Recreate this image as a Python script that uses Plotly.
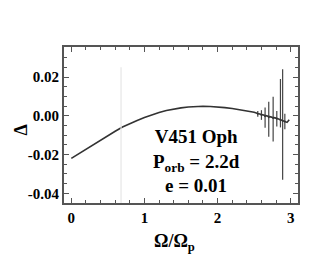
import plotly.graph_objects as go

# Main curve
curve_x = [0.0, 0.1, 0.2, 0.3, 0.4, 0.5, 0.6, 0.7, 0.8, 0.9, 1.0, 1.1, 1.2, 1.3, 1.4, 1.5, 1.6, 1.7, 1.8,
           1.9, 2.0, 2.1, 2.2, 2.3, 2.4, 2.5, 2.55, 2.6, 2.65, 2.7, 2.75, 2.8, 2.85, 2.9, 2.95, 2.98]
curve_y = [-0.0220, -0.0196, -0.0172, -0.0148, -0.0125, -0.0102, -0.0080, -0.0058, -0.0040, -0.0024,
           -0.0009, 0.0005, 0.0017, 0.0027, 0.0035, 0.0041, 0.0045, 0.0048, 0.0049,
           0.0048, 0.0046, 0.0042, 0.0038, 0.0032, 0.0025, 0.0018, 0.0012, 0.0006, 0.0002, -0.0004,
           -0.0008, -0.0012, -0.0018, -0.0024, -0.0034, -0.0020]

# Oscillating points with error bars
err_x = [2.55, 2.60, 2.65, 2.70, 2.76, 2.81, 2.86, 2.89, 2.92]
err_y = [0.0010, 0.0004, -0.0002, -0.0008, -0.0012, -0.0015, -0.0020, -0.0025, -0.0030]
err_up = [0.0015, 0.0025, 0.0045, 0.0080, 0.0110, 0.0040, 0.0210, 0.0265, 0.0040]
err_dn = [0.0015, 0.0025, 0.0060, 0.0100, 0.0120, 0.0040, 0.0040, 0.0305, 0.0040]

x_ticks = [0, 1, 2, 3]
y_ticks = [-0.04, -0.02, 0.00, 0.02]
y_ticklabels = ["-0.04", "-0.02", "0.00", "0.02"]

gap_x = 0.68
gap_top = 0.025

fig = go.Figure()
fig.add_trace(go.Scatter(x=curve_x, y=curve_y, mode="lines",
                         line=dict(color="#333333", width=1.6), showlegend=False))
fig.add_trace(go.Scatter(x=err_x, y=err_y, mode="markers",
                         marker=dict(size=2, color="#333333"),
                         error_y=dict(type="data", symmetric=False, array=err_up, arrayminus=err_dn,
                                      color="#444444", thickness=1.2, width=0),
                         showlegend=False))

fig.add_shape(type="line", xref="x", yref="y", x0=gap_x, x1=gap_x, y0=gap_top, y1=-0.046,
              line=dict(color="#e6e6e6", width=1.2), layer="above")

serif = "Liberation Serif"
fig.add_annotation(x=0.565, y=0.27, xref="paper", yref="paper", xanchor="center", yanchor="middle",
                   text="<b>V451 Oph<br>P<sub>orb</sub> = 2.2d<br>e = 0.01</b>", showarrow=False,
                   align="center",
                   font=dict(family=serif, size=19, color="black"))
# x-axis title
fig.add_annotation(x=0.474, y=-0.25, xref="paper", yref="paper", xanchor="center", yanchor="middle",
                   text="<b>Ω/Ω<sub>p</sub></b>", showarrow=False,
                   font=dict(family=serif, size=18, color="black"))
# y-axis title
fig.add_annotation(x=-0.185, y=0.47, xref="paper", yref="paper", xanchor="center", yanchor="middle",
                   text="<b>Δ</b>", showarrow=False, textangle=-90,
                   font=dict(family=serif, size=18, color="black"))

axis_common = dict(showline=True, linecolor="#555555", linewidth=2, mirror="allticks",
                   ticks="inside", ticklen=5, tickwidth=1, tickcolor="#555555",
                   showgrid=False, zeroline=False, automargin=False,
                   tickfont=dict(family=serif, size=15, color="black", weight="bold"))

fig.update_xaxes(range=[-0.1, 3.1], tickvals=x_ticks, ticktext=[str(v) for v in x_ticks],
                 minor=dict(dtick=0.2, ticks="inside", ticklen=3, tickcolor="#555555"),
                 **axis_common)
fig.update_yaxes(range=[-0.045, 0.0355], tickvals=y_ticks, ticktext=y_ticklabels,
                 minor=dict(dtick=0.005, ticks="inside", ticklen=3, tickcolor="#555555"),
                 **axis_common)

# page body has an 8px margin, so the figure is sized to fit inside it
fig.update_layout(width=319, height=247, margin=dict(l=56, r=29, t=39, b=52),
                  plot_bgcolor="white", paper_bgcolor="white")

fig.write_html("out.html")
